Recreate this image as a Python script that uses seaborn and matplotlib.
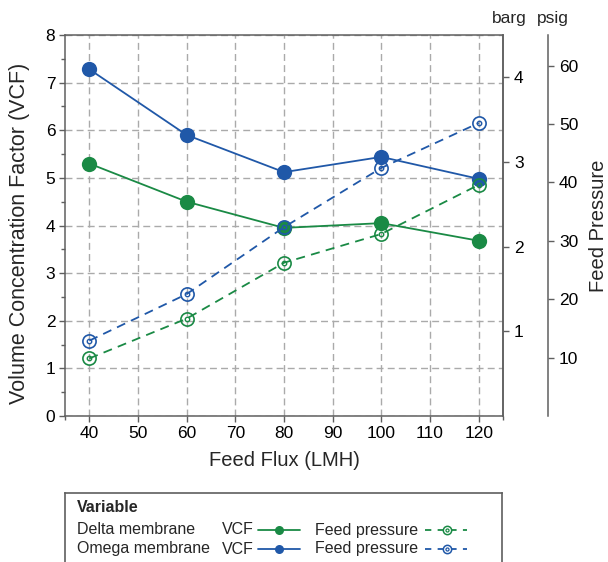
"""
Feed flux vs VCF and feed pressure for two membranes.
Writes out.png.
"""

import numpy as np
import pandas as pd
import matplotlib.pyplot as plt
import seaborn as sns
from matplotlib.ticker import FixedLocator, MultipleLocator

# ── Data ──────────────────────────────────────────────────────────────────────
flux = [40, 60, 80, 100, 120]
membranes = ["Delta membrane", "Omega membrane"]
delta_vcf = [5.30, 4.50, 3.95, 4.05, 3.68]
omega_vcf = [7.28, 5.90, 5.12, 5.44, 4.98]
delta_pressure_barg = [0.68, 1.15, 1.81, 2.15, 2.73]
omega_pressure_barg = [0.89, 1.44, 2.23, 2.93, 3.46]

BAR_TO_PSI = 14.5038
GREEN = "#1a8a45"
BLUE = "#2058a8"
SPINE = "#5f5f5f"

df = pd.DataFrame({
    "flux": flux * 2,
    "membrane": [membranes[0]] * 5 + [membranes[1]] * 5,
    "vcf": delta_vcf + omega_vcf,
    "pressure": delta_pressure_barg + omega_pressure_barg,
})
palette = {membranes[0]: GREEN, membranes[1]: BLUE}

# ── Style ─────────────────────────────────────────────────────────────────────
sns.set_theme(style="ticks")
plt.rcParams["font.family"] = ["Liberation Sans", "DejaVu Sans"]
plt.rcParams["axes.edgecolor"] = SPINE
plt.rcParams["xtick.color"] = SPINE
plt.rcParams["ytick.color"] = SPINE
plt.rcParams["xtick.labelcolor"] = "black"
plt.rcParams["ytick.labelcolor"] = "black"

W, H = 608, 562
fig = plt.figure(figsize=(W / 100, H / 100), dpi=100)
L, R, T, B = 65, 503, 35, 416
ax = fig.add_axes([L / W, 1 - B / H, (R - L) / W, (B - T) / H])

# ── VCF (left axis) ───────────────────────────────────────────────────────────
sns.lineplot(data=df, x="flux", y="vcf", hue="membrane", palette=palette,
             marker="o", markersize=11, markeredgewidth=0, linewidth=1.3,
             legend=False, ax=ax, zorder=3)

ax.set_xlim(35, 125)
ax.set_ylim(0, 8)
ax.xaxis.set_major_locator(FixedLocator(range(40, 121, 10)))
ax.xaxis.set_minor_locator(FixedLocator([35, 125]))
ax.yaxis.set_major_locator(MultipleLocator(1))
ax.yaxis.set_minor_locator(MultipleLocator(0.5))
ax.grid(True, which="major", linestyle=(0, (5, 3)), color="#aaaaaa", linewidth=1.0)
ax.set_axisbelow(True)
for s in ax.spines.values():
    s.set_linewidth(1.1)
    s.set_color(SPINE)
ax.tick_params(which="major", length=4, width=1, labelsize=12.5, pad=3)
ax.tick_params(which="minor", length=3, width=1)
ax.set_xlabel("Feed Flux (LMH)", fontsize=14.5)
ax.set_ylabel("Volume Concentration Factor (VCF)", fontsize=15.5)
ax.xaxis.set_label_coords(0.5, -0.092)
ax.yaxis.set_label_coords(-0.08, 0.48)

# ── Feed pressure (barg, right spine) ─────────────────────────────────────────
ax_b = ax.twinx()
ax_b.set_ylim(0, 4.5)
ax_b.yaxis.set_major_locator(FixedLocator([1, 2, 3, 4]))
for name, s in ax_b.spines.items():
    s.set_visible(name == "right")
    s.set_color(SPINE)
    s.set_linewidth(1.1)
ax_b.tick_params(axis="y", length=4, width=1, labelsize=12.5, pad=4)

for m in membranes:
    sub = df[df["membrane"] == m]
    sns.lineplot(data=sub, x="flux", y="pressure", color=palette[m],
                 linestyle=(0, (5, 3.5)), linewidth=1.3, marker="o",
                 markersize=9.5, markerfacecolor="none",
                 markeredgecolor=palette[m], markeredgewidth=1.2,
                 ax=ax_b, zorder=4)
    ax_b.plot(sub["flux"], sub["pressure"], linestyle="none", marker="o",
              markersize=3.2, markerfacecolor="none",
              markeredgecolor=palette[m], markeredgewidth=1.0, zorder=5)
ax_b.set_ylabel("")
ax_b.set_xlabel("")

# ── psig axis (offset 45 px to the right) ─────────────────────────────────────
ax_p = ax.twinx()
ax_p.set_ylim(0, 4.5 * BAR_TO_PSI)
ax_p.spines["right"].set_position(("outward", 45 * 0.72))
for name, s in ax_p.spines.items():
    s.set_visible(name == "right")
    s.set_color(SPINE)
    s.set_linewidth(1.1)
ax_p.yaxis.set_major_locator(FixedLocator(range(10, 61, 10)))
ax_p.tick_params(axis="y", length=4, width=1, labelsize=12.5, pad=4)

fig.text(492 / W, 1 - 18 / H, "barg", fontsize=12.5, va="center", ha="left")
fig.text(537 / W, 1 - 18 / H, "psig", fontsize=12.5, va="center", ha="left")
fig.text(598 / W, 1 - 226 / H, "Feed Pressure", fontsize=14.5, rotation=90,
         va="center", ha="center")

# ── Legend box ────────────────────────────────────────────────────────────────
LT, LR = 493, 502
lg = fig.add_axes([L / W, 0, (LR - L) / W, (H - LT) / H])
lg.set_xlim(0, LR - L)
lg.set_ylim(H - LT, 0)
lg.set_xticks([])
lg.set_yticks([])
lg.patch.set_alpha(0)
for name, s in lg.spines.items():
    s.set_visible(name != "bottom")
    s.set_color(SPINE)
    s.set_linewidth(1.2)

fs = 11.5
lg.text(12, 15, "Variable", fontsize=fs, fontweight="bold", va="center")
for row_y, m in zip([37, 56], membranes):
    c = palette[m]
    lg.text(12, row_y, m, fontsize=fs, va="center")
    lg.text(157, row_y, "VCF", fontsize=fs, va="center")
    lg.plot([193, 235], [row_y, row_y], color=c, linewidth=1.3)
    lg.plot([214], [row_y], marker="o", color=c, markersize=6.5, markeredgewidth=0)
    lg.text(250, row_y, "Feed pressure", fontsize=fs, va="center")
    lg.plot([360, 402], [row_y, row_y], color=c, linewidth=1.3, linestyle=(0, (3.5, 3.5)))
    lg.plot([382], [row_y], marker="o", color=c, markersize=6,
            markerfacecolor="white", markeredgewidth=1.1)
    lg.plot([382], [row_y], marker="o", color=c, markersize=2.2,
            markerfacecolor="none", markeredgewidth=0.9)

fig.savefig("out.png", dpi=100)
